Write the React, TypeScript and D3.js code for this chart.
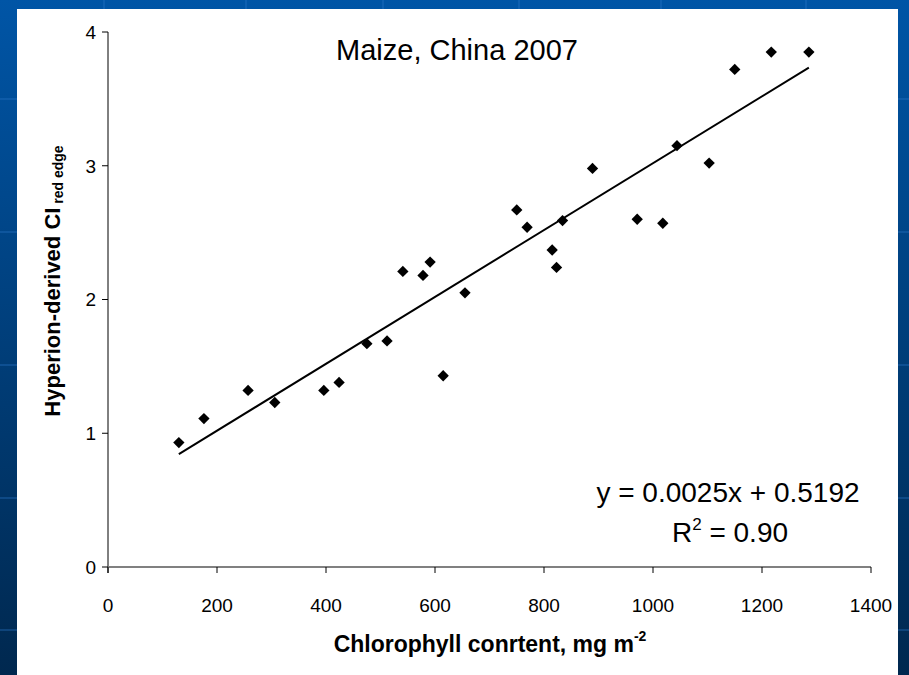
import React from "react";
import * as d3 from "d3";

const chlorophyll = [130, 176, 257, 306, 396, 424, 475, 512, 541, 578, 591, 615, 655, 750, 769, 815, 823, 834, 889, 971, 1018, 1044, 1103, 1150, 1217, 1286];
const ciRedEdge = [0.93, 1.11, 1.32, 1.23, 1.32, 1.38, 1.67, 1.69, 2.21, 2.18, 2.28, 1.43, 2.05, 2.67, 2.54, 2.37, 2.24, 2.59, 2.98, 2.6, 2.57, 3.15, 3.02, 3.72, 3.85, 3.85];
const xTicks = [0, 200, 400, 600, 800, 1000, 1200, 1400];
const yTicks = [0, 1, 2, 3, 4];
const slope = 0.0025;
const intercept = 0.5192;
const rSquared = "0.90";
const title = "Maize, China 2007";

const W = 909;
const H = 675;

export default function App() {
  const x = d3.scaleLinear().domain([0, 1400]).range([108, 871]);
  const y = d3.scaleLinear().domain([0, 4]).range([567, 32]);
  const diamond = d3.symbol().type(d3.symbolSquare).size(64)();
  const xMin = d3.min(chlorophyll) as number;
  const xMax = d3.max(chlorophyll) as number;
  const line = d3.line<number>().x((d) => x(d)).y((d) => y(slope * d + intercept));
  const hLines = [99, 232, 365, 498, 630];
  const vLines = [104, 246, 383, 519, 661, 806];

  return (
    <svg width={W} height={H} style={{ position: "absolute", left: 0, top: 0 }} fontFamily="'Liberation Sans', Arial, sans-serif">
      <defs>
        <linearGradient id="bg" x1="0" y1="0" x2="0" y2="1">
          <stop offset="0" stopColor="#0055a6" />
          <stop offset="1" stopColor="#00284f" />
        </linearGradient>
      </defs>
      <rect x={0} y={0} width={W} height={H} fill="url(#bg)" />
      {hLines.map((v) => (
        <line key={"h" + v} x1={0} x2={W} y1={v} y2={v} stroke="#2a78c8" strokeOpacity={0.45} strokeWidth={1.5} />
      ))}
      {vLines.map((v) => (
        <line key={"v" + v} x1={v} x2={v} y1={0} y2={H} stroke="#2a78c8" strokeOpacity={0.45} strokeWidth={1.5} />
      ))}
      <rect x={17} y={9} width={881} height={H - 9} fill="#ffffff" />

      {/* y axis */}
      <line x1={x(0)} x2={x(0)} y1={y(4)} y2={y(0) + 6} stroke="#000" strokeWidth={1} />
      {yTicks.map((t) => (
        <g key={"yt" + t}>
          <line x1={x(0) - 6} x2={x(0)} y1={y(t)} y2={y(t)} stroke="#000" strokeWidth={1} />
          <text x={x(0) - 12} y={y(t)} dy="0.36em" textAnchor="end" fontSize={19} fill="#000">
            {t}
          </text>
        </g>
      ))}
      {/* x axis */}
      <line x1={x(0)} x2={x(1400)} y1={y(0)} y2={y(0)} stroke="#808080" strokeWidth={2} />
      {xTicks.map((t) => (
        <g key={"xt" + t}>
          <line x1={x(t)} x2={x(t)} y1={y(0)} y2={y(0) + 6} stroke="#000" strokeWidth={1} />
          <text x={x(t)} y={y(0) + 45} textAnchor="middle" fontSize={19} fill="#000">
            {t}
          </text>
        </g>
      ))}

      {/* regression */}
      <path d={line([xMin, xMax]) || ""} stroke="#000" strokeWidth={2} fill="none" />
      {chlorophyll.map((c, i) => (
        <path key={"p" + i} d={diamond || ""} transform={`translate(${x(c)},${y(ciRedEdge[i])}) rotate(45)`} fill="#000" />
      ))}

      <text x={457} y={60} textAnchor="middle" fontSize={29} fill="#000">
        {title}
      </text>
      <text x={728} y={502} textAnchor="middle" fontSize={28} fill="#000">
        {`y = ${slope}x + ${intercept}`}
      </text>
      <text x={730} y={542} textAnchor="middle" fontSize={28} fill="#000">
        R<tspan fontSize={17} dy={-12}>2</tspan>
        <tspan dy={12}>{` = ${rSquared}`}</tspan>
      </text>

      <text transform="translate(60,281) rotate(-90)" textAnchor="middle" fontSize={22} fontWeight="bold" fill="#000">
        Hyperion-derived CI
        <tspan fontSize={14} dy={3}>{" red edge"}</tspan>
      </text>
      <text x={490} y={652} textAnchor="middle" fontSize={23} fontWeight="bold" fill="#000">
        Chlorophyll conrtent, mg m<tspan fontSize={14} dy={-11}>-2</tspan>
      </text>
    </svg>
  );
}
